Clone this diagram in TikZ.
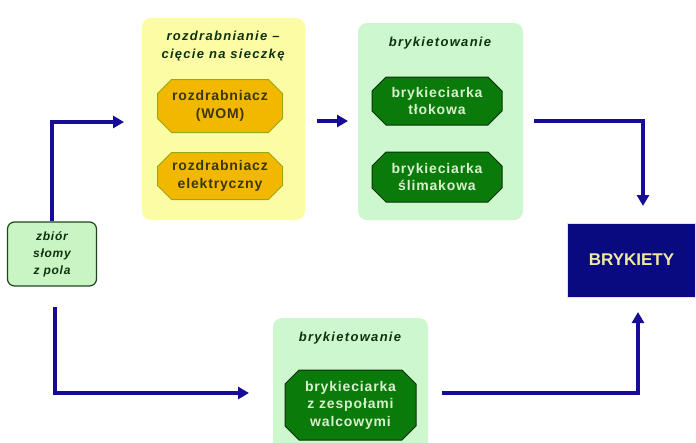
\documentclass[tikz,border=0pt]{standalone}
\usepackage{fontspec}
\setmainfont{Liberation Sans}
\usetikzlibrary{shapes.misc,arrows.meta,positioning}
\definecolor{arrowblue}{RGB}{22,12,150}
\definecolor{panelyellow}{RGB}{252,252,165}
\definecolor{panelgreen}{RGB}{205,247,205}
\definecolor{boxorange}{RGB}{242,184,0}
\definecolor{boxorangeline}{RGB}{150,170,20}
\definecolor{orangetext}{RGB}{60,55,10}
\definecolor{boxgreen}{RGB}{10,122,10}
\definecolor{boxgreenline}{RGB}{10,50,10}
\definecolor{greentext}{RGB}{215,240,205}
\definecolor{titletext}{RGB}{15,50,15}
\definecolor{srcfill}{RGB}{200,245,195}
\definecolor{srcline}{RGB}{30,70,30}
\definecolor{navy}{RGB}{10,10,128}
\definecolor{paleyellow}{RGB}{240,232,160}
\begin{document}
\begin{tikzpicture}[x=1pt,y=-1pt,
  paneltitle/.style={font=\fontsize{13}{18}\selectfont\bfseries\itshape\addfontfeatures{LetterSpace=10},text=titletext,align=center,inner sep=0pt},
  orangebox/.style={chamfered rectangle,chamfered rectangle xsep=7pt,chamfered rectangle ysep=7pt,fill=boxorange,draw=boxorangeline,line width=1pt,inner sep=0pt,minimum width=125pt,text=orangetext,font=\fontsize{14}{18}\selectfont\bfseries\addfontfeatures{LetterSpace=6},align=center},
  greenbox/.style={chamfered rectangle,chamfered rectangle xsep=7pt,chamfered rectangle ysep=7pt,fill=boxgreen,draw=boxgreenline,line width=1pt,inner sep=0pt,minimum width=130pt,text=greentext,font=\fontsize{14}{17.5}\selectfont\bfseries\addfontfeatures{LetterSpace=6},align=center},
  flow/.style={draw=arrowblue,line width=3.5pt,-{Triangle[length=11pt,width=12pt]}}]
\useasboundingbox (0,0) rectangle (696,442);

% panels
\fill[panelyellow,rounded corners=9pt] (142,18) rectangle (305,220);
\fill[panelgreen,rounded corners=9pt] (358,23) rectangle (523,220);
\fill[panelgreen,rounded corners=9pt] (273,318) rectangle (428,460);

% titles
\node[paneltitle] (t1) at (223,46) {rozdrabnianie --\\cięcie na sieczkę};
\node[paneltitle] (t2) at (440,43) {brykietowanie};
\node[paneltitle] (t3) at (350,338) {brykietowanie};

% boxes
\node[orangebox,minimum height=53pt] (r1) at (220,106) {rozdrabniacz\\(WOM)};
\node[orangebox,minimum height=47pt] (r2) at (220,176) {rozdrabniacz\\elektryczny};
\node[greenbox,minimum height=48pt] (b1) at (437,101) {brykieciarka\\tłokowa};
\node[greenbox,minimum height=50pt] (b2) at (437,177) {brykieciarka\\ślimakowa};
\node[greenbox,minimum width=131pt,minimum height=70pt] (b3) at (350.5,405) {brykieciarka\\z zespołami\\walcowymi};

% source
\node[rounded corners=7pt,fill=srcfill,draw=srcline,line width=1.2pt,minimum width=89pt,minimum height=64pt,inner sep=0pt,
  text=titletext,font=\fontsize{12}{17}\selectfont\bfseries\itshape\addfontfeatures{LetterSpace=6},align=center] (src) at (52,254) {zbiór\\słomy\\z pola};

% result
\node[fill=navy,draw=paleyellow,line width=0.8pt,minimum width=128pt,minimum height=74pt,inner sep=0pt,
  text=paleyellow,font=\fontsize{17}{20}\selectfont\bfseries] (res) at (631.5,260) {BRYKIETY};

% connector coordinates
\coordinate (a1c) at (52,122);
\coordinate (a1e) at (124,122);
\coordinate (a2s) at (317,121);
\coordinate (a2e) at (348,121);
\coordinate (a3s) at (534,121);
\coordinate (a3c) at (643,121);
\coordinate (a3e) at (643,206);
\coordinate (a4s) at (55,307);
\coordinate (a4c) at (55,393);
\coordinate (a4e) at (249,393);
\coordinate (a5s) at (442,393);
\coordinate (a5c) at (638,393);
\coordinate (a5e) at (638,312);

\draw[flow] (src.north) -- (a1c) -- (a1e);
\draw[flow] (a2s) -- (a2e);
\draw[flow] (a3s) -- (a3c) -- (a3e);
\draw[flow] (a4s) -- (a4c) -- (a4e);
\draw[flow] (a5s) -- (a5c) -- (a5e);
\end{tikzpicture}
\end{document}
